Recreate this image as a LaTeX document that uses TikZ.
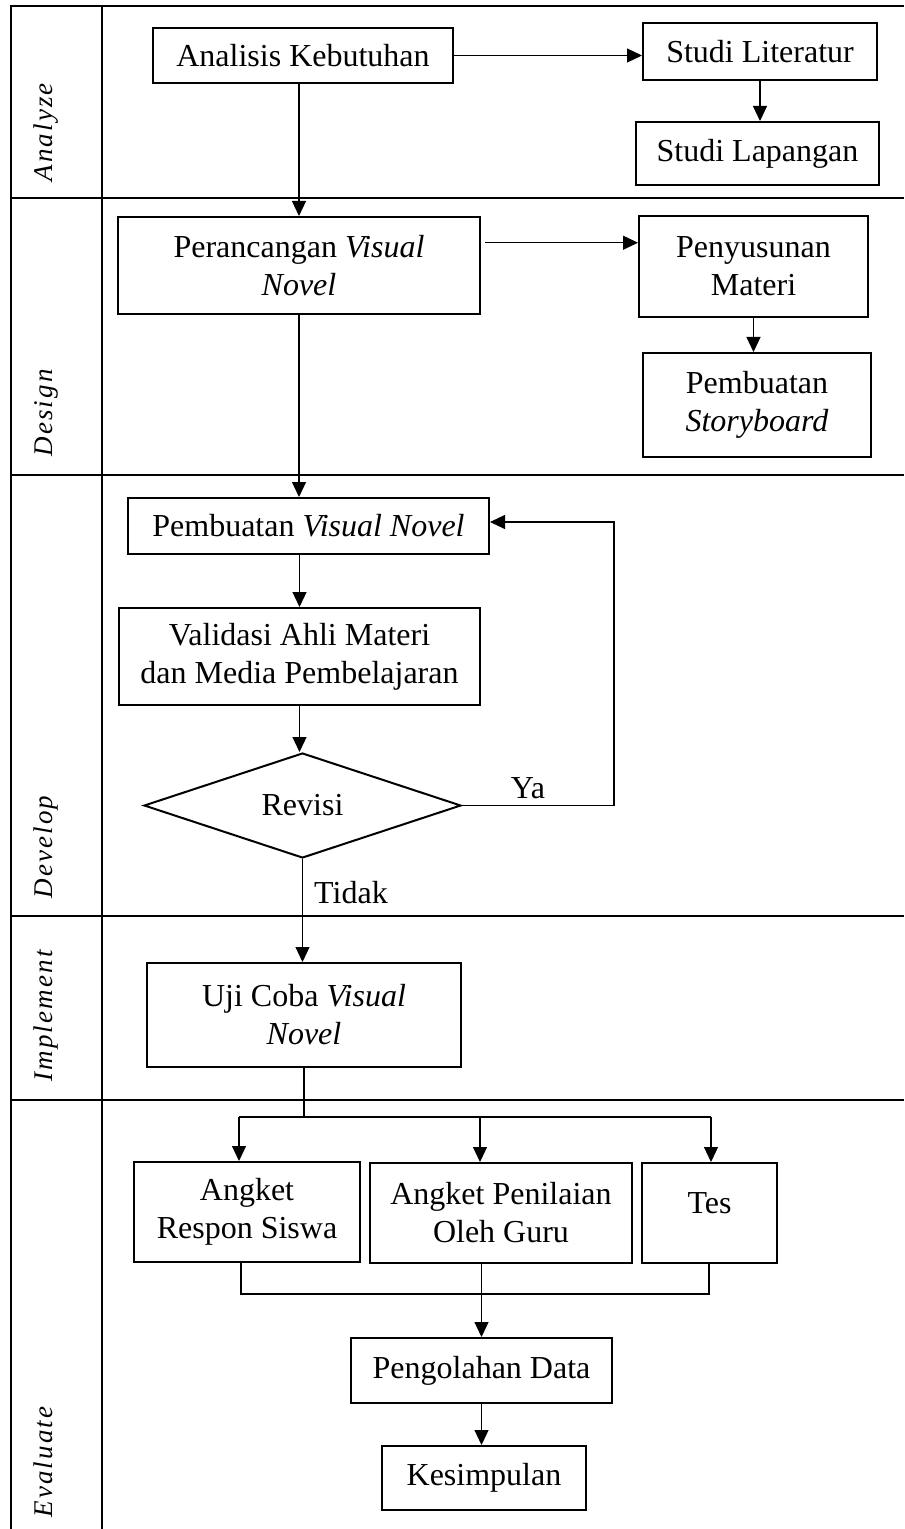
\documentclass[tikz,border=0pt]{standalone}
\usepackage{fontspec}
\setmainfont{Liberation Serif}
\usetikzlibrary{arrows.meta,shapes.geometric,calc}
\begin{document}
\begin{tikzpicture}[x=0.5pt,y=-0.5pt,
  sz/.style 2 args={minimum width=#1*0.5pt,minimum height=#2*0.5pt},
  box/.style={draw,line width=1pt,align=center,inner sep=0pt,font=\fontsize{16pt}{19pt}\selectfont},
  conn/.style={line width=0.6pt},
  arr/.style={conn,-{Triangle[length=7.5pt,width=7pt]}},
  lane/.style={line width=1.4pt},
  lanelab/.style={rotate=90,anchor=base west,inner sep=0pt,font=\fontsize{13.5pt}{15pt}\selectfont\itshape\addfontfeature{LetterSpace=8}},
  lbl/.style={inner sep=0pt,font=\fontsize{16pt}{19pt}\selectfont}]
\useasboundingbox (0,0) rectangle (904,1529);
% swimlane frame
\draw[lane] (11,1529) -- (11,6) -- (904,6);
\draw[lane] (102,6) -- (102,1529);
\foreach \yy in {198,475,916,1100} {\draw[lane] (11,\yy) -- (904,\yy);}
% lane labels
\node[lanelab] (lA) at (52,182) {Analyze};
\node[lanelab] (lD) at (52,457) {Design};
\node[lanelab] (lDv) at (52,899) {Develop};
\node[lanelab] (lI) at (52,1082) {Implement};
\node[lanelab] (lE) at (52,1518) {Evaluate};
% nodes
\node[box,sz={300}{55}] (ak) at (303,55.5) {Analisis Kebutuhan};
\node[box,sz={234}{57}] (sl) at (760,51.5) {Studi Literatur};
\node[box,sz={243}{63}] (slp) at (757.5,153.5) {Studi Lapangan};
\node[box,sz={362}{97}] (pv) at (299,265.5) {Perancangan \textit{Visual}\\\textit{Novel}};
\node[box,sz={229}{101}] (pm) at (753.5,266.5) {Penyusunan\\Materi};
\node[box,sz={228}{104}] (ps) at (757,405) {Pembuatan\\\textit{Storyboard}};
\node[box,sz={361}{56}] (bv) at (308.5,526) {Pembuatan \textit{Visual Novel}};
\node[box,sz={361}{97}] (va) at (299.5,656.5) {Validasi Ahli Materi\\dan Media Pembelajaran};
\node[box,diamond,sz={317}{105}] (rv) at (302.5,805.5) {Revisi};
\node[box,sz={314}{104}] (uj) at (304,1015) {Uji Coba \textit{Visual}\\\textit{Novel}};
\node[box,sz={226}{100}] (ar) at (247,1212) {Angket\\Respon Siswa};
\node[box,sz={262}{100}] (ap) at (501,1213) {Angket Penilaian\\Oleh Guru};
\node[box,sz={135}{100}] (ts) at (709.5,1213) {\smash{Tes}};
\node[box,sz={261}{65}] (pd) at (481.5,1370.5) {Pengolahan Data};
\node[box,sz={204}{64}] (ks) at (484,1478) {Kesimpulan};
% connectors
\draw[arr] (ak.east) -- (ak.east -| sl.west);
\draw[arr] (sl.south) -- (sl.south |- slp.north);
\draw[arr] (pv.north |- ak.south) -- (pv.north);
\coordinate (pvo) at ($(pv.north east)!0.27!(pv.south east)+(4,0)$);
\draw[arr] (pvo) -- (pvo -| pm.west);
\draw[arr] (pm.south) -- (pm.south |- ps.north);
\draw[arr] (pv.south) -- (pv.south |- bv.north);
\draw[arr] (va.north |- bv.south) -- (va.north);
\draw[arr] (va.south) -- (va.south |- rv.north);
\coordinate (loop) at (614,805.5);
\coordinate (bvin) at ($(bv.east)+(0,-4)$);
\draw[arr] (rv.east) -- (loop) |- (bvin);
\node[lbl] (ya) at (528,788) {Ya};
\draw[arr] (rv.south) -- (rv.south |- uj.north);
\node[lbl] (td) at (351,893) {Tidak};
\coordinate (bus) at (304,1117);
\draw[conn] (uj.south) -- (bus);
\coordinate (b1) at (239,1117);
\coordinate (b2) at (480,1117);
\coordinate (b3) at (711,1117);
\draw[conn] (b1) -- (b3);
\draw[arr] (b1) -- (b1 |- ar.north);
\draw[arr] (b2) -- (b2 |- ap.north);
\draw[arr] (b3) -- (b3 |- ts.north);
\coordinate (c1) at (241,1294);
\coordinate (c3) at (709,1294);
\draw[conn] (c1 |- ar.south) -- (c1) -- (c3) -- (c3 |- ts.south);
\draw[arr] (ap.south -| pd.north) -- (pd.north);
\draw[arr] (pd.south) -- (pd.south |- ks.north);
\end{tikzpicture}
\end{document}
